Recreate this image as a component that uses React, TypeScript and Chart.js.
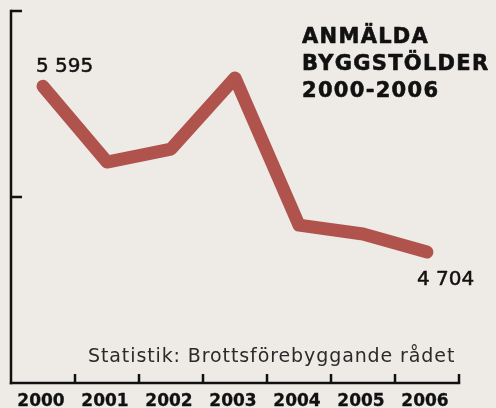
import React, { useEffect, useRef } from "react";
import { Chart, registerables } from "chart.js";

Chart.register(...registerables);

const years = ["2000", "2001", "2002", "2003", "2004", "2005", "2006"];
const thefts = [5595, 5188, 5258, 5640, 4849, 4801, 4704];
const yTicks = [4000, 5000, 6000];
const titleLines = ["ANMÄLDA", "BYGGSTÖLDER", "2000-2006"];
const firstLabel = "5 595";
const lastLabel = "4 704";
const sourceText = "Statistik: Brottsförebyggande rådet";

const BG = "#eeebe6";
const LINE = "#b0534d";

function boldText(ctx: any, t: string, x: number, y: number, w: number) {
  ctx.fillText(t, x, y);
  if (w > 0) {
    ctx.lineWidth = w;
    ctx.strokeStyle = ctx.fillStyle;
    ctx.lineJoin = "round";
    ctx.strokeText(t, x, y);
  }
}

const decor = {
  id: "decor",
  beforeDraw(chart: any) {
    const ctx = chart.ctx;
    ctx.save();
    ctx.fillStyle = BG;
    ctx.fillRect(0, 0, chart.width, chart.height);
    ctx.restore();
  },
  afterDraw(chart: any) {
    const ctx = chart.ctx;
    const xs = chart.scales.x;
    const ys = chart.scales.y;
    const area = chart.chartArea;
    ctx.save();
    ctx.strokeStyle = "#111";
    ctx.lineWidth = 2.5;
    ctx.lineCap = "butt";
    // y axis
    const yTop = ys.getPixelForValue(yTicks[yTicks.length - 1]);
    const yBot = ys.getPixelForValue(yTicks[0]);
    ctx.beginPath();
    ctx.moveTo(area.left, yTop - 1.2);
    ctx.lineTo(area.left, yBot + 1.2);
    ctx.stroke();
    // y ticks (inward)
    yTicks.slice(1).forEach((v) => {
      const y = ys.getPixelForValue(v);
      ctx.beginPath();
      ctx.moveTo(area.left, y);
      ctx.lineTo(area.left + 11, y);
      ctx.stroke();
    });
    // x axis
    ctx.beginPath();
    ctx.moveTo(area.left - 1.2, yBot);
    ctx.lineTo(area.right + 1.2, yBot);
    ctx.stroke();
    // x ticks at band boundaries
    for (let i = 0; i < years.length; i++) {
      const x =
        i < years.length - 1
          ? (xs.getPixelForValue(i) + xs.getPixelForValue(i + 1)) / 2
          : area.right;
      ctx.beginPath();
      ctx.moveTo(x, yBot);
      ctx.lineTo(x, yBot - 9);
      ctx.stroke();
    }
    // year labels
    ctx.fillStyle = "#111";
    ctx.font = "bold 17px 'DejaVu Sans'";
    ctx.textAlign = "center";
    ctx.textBaseline = "alphabetic";
    years.forEach((y, i) => {
      boldText(ctx, y, xs.getPixelForValue(i) - 2, 406, 0.3);
    });
    // value labels
    ctx.font = "20px 'DejaVu Sans'";
    ctx.textAlign = "left";
    const x0 = xs.getPixelForValue(0);
    const y0 = ys.getPixelForValue(thefts[0]);
    boldText(ctx, firstLabel, x0 - 7, y0 - 14, 0.5);
    const xn = xs.getPixelForValue(years.length - 1);
    const yn = ys.getPixelForValue(thefts[thefts.length - 1]);
    boldText(ctx, lastLabel, xn - 10, yn + 33, 0.5);
    // title
    ctx.font = "bold 21px 'DejaVu Sans'";
    (ctx as any).letterSpacing = "1.3px";
    titleLines.forEach((t, i) => {
      boldText(ctx, t, 302, 43 + i * 27, 0.6);
    });
    // source
    ctx.fillStyle = "#2a2a2a";
    ctx.font = "19px 'DejaVu Sans'";
    (ctx as any).letterSpacing = "0.9px";
    ctx.fillText(sourceText, 88, 362);
    (ctx as any).letterSpacing = "0px";
    ctx.restore();
  },
};

export default function App() {
  const ref = useRef<HTMLCanvasElement>(null);
  useEffect(() => {
    if (!ref.current) return;
    const chart = new Chart(ref.current, {
      type: "line",
      data: {
        labels: years,
        datasets: [
          {
            data: thefts,
            borderColor: LINE,
            borderWidth: 13,
            borderCapStyle: "round",
            borderJoinStyle: "round",
            pointRadius: 0,
            tension: 0,
            fill: false,
            clip: false as any,
          },
        ],
      },
      options: {
        responsive: false,
        animation: false,
        layout: { padding: { left: 11, right: 37, top: 11, bottom: 25 } },
        plugins: { legend: { display: false }, tooltip: { enabled: false } },
        scales: {
          x: { type: "category", offset: true, display: false },
          y: { type: "linear", min: 4000, max: 6000, display: false },
        },
      },
      plugins: [decor],
    });
    return () => chart.destroy();
  }, []);
  return (
    <div
      style={{
        position: "fixed",
        left: 0,
        top: 0,
        width: 496,
        height: 408,
        background: BG,
      }}
    >
      <canvas ref={ref} width={496} height={408} style={{ display: "block" }} />
    </div>
  );
}
